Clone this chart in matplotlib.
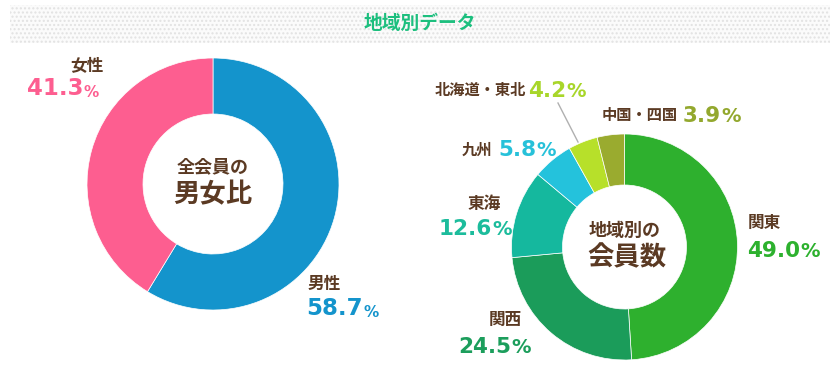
import matplotlib
matplotlib.use("Agg")
import matplotlib.pyplot as plt
from matplotlib.patches import Rectangle

# ---- data ----
title = "地域別データ"
gender_labels = ["男性", "女性"]
gender_values = [58.7, 41.3]
gender_colors = ["#1494cc", "#fd5e90"]

region_labels = ["関東", "関西", "東海", "九州", "北海道・東北", "中国・四国"]
region_values = [49.0, 24.5, 12.6, 5.8, 4.2, 3.9]
region_colors = ["#2eb02e", "#1b9c5a", "#15b89e", "#24c2dc", "#b7e02a", "#9aab2f"]
region_text_colors = ["#2db12e", "#1c9e5c", "#1cbc9c", "#27c1d9", "#a8d62a", "#93a82e"]

W, H = 840, 381
BROWN = "#5b3a23"
CJK = ["Noto Sans CJK JP", "DejaVu Sans"]
NUM = ["DejaVu Sans"]

def Y(y):
    return H - y

fig = plt.figure(figsize=(W / 100, H / 100), dpi=100)
ax = fig.add_axes([0, 0, 1, 1])

# title band
ax.add_patch(Rectangle((10, Y(43)), 820, 38, facecolor="#fbfbfb",
                       edgecolor="#e2e2e2", hatch="....", lw=0, zorder=0))
ax.text(420, Y(23), title, ha="center", va="center", color="#1cbf7e",
        fontsize=13.5, fontweight="bold", family=CJK)

# left donut
ax.pie(gender_values, colors=gender_colors, startangle=90, counterclock=False,
       radius=126, center=(213, Y(184)),
       wedgeprops=dict(width=56, edgecolor="white", linewidth=0.5), frame=True)
# right donut
ax.pie(region_values, colors=region_colors, startangle=90, counterclock=False,
       radius=113, center=(624.5, Y(247)),
       wedgeprops=dict(width=51, edgecolor="white", linewidth=0.5), frame=True)

ax.set_xlim(0, W)
ax.set_ylim(0, H)
ax.set_aspect("equal")
ax.axis("off")

def pct(x, ybase, value, color, size, psize):
    t = ax.text(x, Y(ybase), f"{value:.1f}", ha="left", va="baseline",
                color=color, fontsize=size, fontweight="bold", family=NUM)
    ax.annotate("%", xy=(1, 0), xycoords=t, xytext=(0.3, 0),
                textcoords="offset points", ha="left", va="bottom",
                color=color, fontsize=psize, fontweight="bold", family=NUM)

def label(x, y, s, size=12, weight="bold", ha="center"):
    ax.text(x, Y(y), s, ha=ha, va="center", color=BROWN, fontsize=size,
            fontweight=weight, family=CJK)

# gender labels
label(87, 66, gender_labels[1])
pct(27, 95, gender_values[1], gender_colors[1], 16.5, 11)
label(324, 284, gender_labels[0])
pct(306, 315, gender_values[0], gender_colors[0], 16.5, 11)

# center texts
label(213, 167, "全会員の", size=13)
label(213, 195, "男女比", size=19)
label(625, 230, "地域別の", size=13)
label(627, 258, "会員数", size=19)

# region labels
reg_label_pos = [(764, 223), (505, 320), (484, 204), (477, 150), (480, 90), (640, 115)]
reg_label_size = [12, 12, 12, 11, 11, 11]
reg_pct_pos = [(747, 257), (458, 353), (439, 235), (498, 156), (528, 97), (683, 122)]
for i in range(len(region_labels)):
    lx, ly = reg_label_pos[i]
    label(lx, ly, region_labels[i], size=reg_label_size[i])
    px, py = reg_pct_pos[i]
    pct(px, py, region_values[i], region_text_colors[i], 15.5, 14)

# leader line for 北海道・東北
ax.plot([558, 578], [Y(103), Y(142)], color="#b0b0b0", lw=1)

fig.savefig("out.png", dpi=100)
